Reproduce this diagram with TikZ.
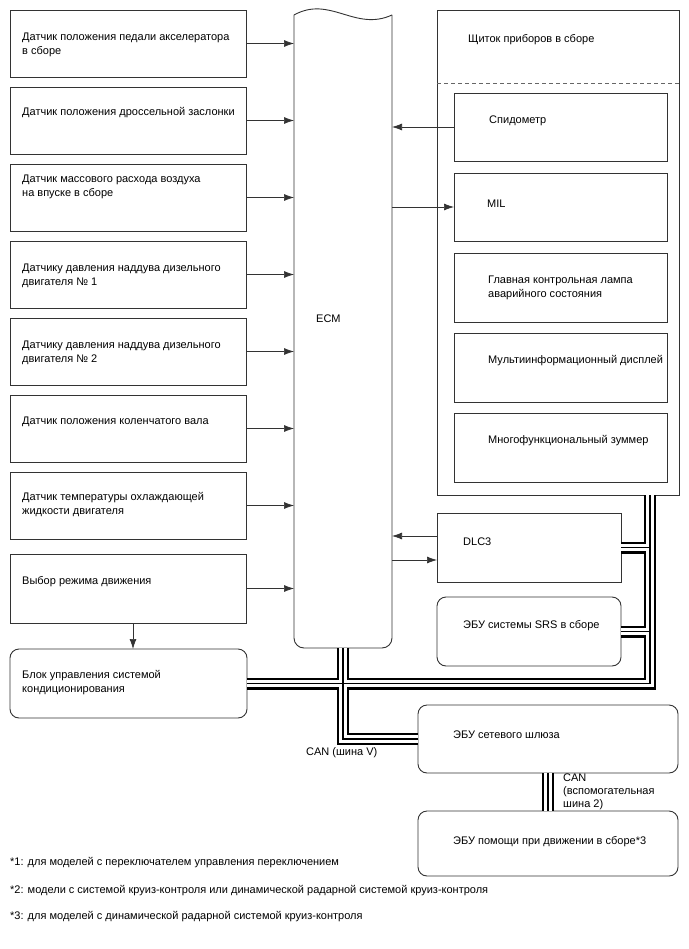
\documentclass[tikz,border=0pt]{standalone}
\usepackage{fontspec}
\setmainfont{Liberation Sans}
\usetikzlibrary{arrows.meta}
\newcommand\buslines[1]{%
  \draw[#1] (ecm.south) -- (ecm.south |- gw.west) -- (gw.west);
  \draw[#1] (ac.east) -- (ac.east -| rb) -- (rb);
  \draw[#1] (dlc.east) -- (dlc.east -| rb);
  \draw[#1] (srs.east) -- (srs.east -| rb);
  \draw[#1] (ga) -- (ga |- asst.north);
}
\begin{document}
\begin{tikzpicture}[x=1pt,y=-1pt,
  every node/.style={font=\fontsize{11}{14}\selectfont},
  box/.style={draw=black!80, line width=0.9pt, anchor=north west, inner sep=0pt, outer sep=0pt},
  rbox/.style={box, rounded corners=9pt},
  lbl/.style={anchor=west, align=left, inner sep=0pt},
  arr/.style={draw=black!80, line width=0.7pt, -{Latex[length=10pt,width=7pt]}},
  line join=miter
]
\useasboundingbox[fill=white] (0,0) rectangle (688,949);

% left column
\node[box, minimum width=236, minimum height=67] (s1) at (10,10) {};
\node[box, minimum width=236, minimum height=67] (s2) at (10,87) {};
\node[box, minimum width=236, minimum height=67] (s3) at (10,164) {};
\node[box, minimum width=236, minimum height=67] (s4) at (10,241) {};
\node[box, minimum width=236, minimum height=67] (s5) at (10,318) {};
\node[box, minimum width=236, minimum height=67] (s6) at (10,395) {};
\node[box, minimum width=236, minimum height=67] (s7) at (10,472) {};
\node[box, minimum width=236, minimum height=69] (s8) at (10,554) {};
\node[rbox, minimum width=237, minimum height=69] (ac) at (10,649) {};

\node[lbl] (t1) at (22,44.5) {Датчик положения педали акселератора\\в сборе};
\node[lbl] (t2) at (22,113) {Датчик положения дроссельной заслонки};
\node[lbl] (t3) at (22,187) {Датчик массового расхода воздуха\\на впуске в сборе};
\node[lbl] (t4) at (22,275.5) {Датчику давления наддува дизельного\\двигателя № 1};
\node[lbl] (t5) at (22,353) {Датчику давления наддува дизельного\\двигателя № 2};
\node[lbl] (t6) at (22,422) {Датчик положения коленчатого вала};
\node[lbl] (t7) at (22,505) {Датчик температуры охлаждающей\\жидкости двигателя};
\node[lbl] (t8) at (22,582) {Выбор режима движения};
\node[lbl] (t9) at (22,682.5) {Блок управления системой\\кондиционирования};

% ECM
\node[inner sep=0pt, outer sep=0pt, anchor=north west, minimum width=98, minimum height=633] (ecm) at (294,15) {};
\draw[draw=black!80, line width=0.9pt, rounded corners=10pt] (ecm.north west) -- (ecm.south west) -- (ecm.south east) -- (ecm.north east);
\draw[draw=black!80, line width=0.9pt] (ecm.north west) .. controls +(36,-20) and +(-37,17) .. (ecm.north east);
\node[lbl] (tecm) at (316,319) {ECM};

% instrument cluster
\node[box, minimum width=242, minimum height=485] (cl) at (437,10) {};
\path (cl.north west) ++(0,73) coordinate (dl);
\path (cl.north east) ++(0,73) coordinate (dr);
\draw[black!60, line width=0.8pt, dash pattern=on 4pt off 3pt] (dl) -- (dr);
\node[lbl] (tcl) at (468,40) {Щиток приборов в сборе};

\node[box, minimum width=213, minimum height=68] (spd) at (454,93) {};
\node[box, minimum width=213, minimum height=68] (mil) at (454,173) {};
\node[box, minimum width=213, minimum height=69] (lamp) at (454,253) {};
\node[box, minimum width=213, minimum height=69] (disp) at (454,333) {};
\node[box, minimum width=213, minimum height=69] (buz) at (454,413) {};
\node[lbl] (tspd) at (489,121) {Спидометр};
\node[lbl] (tmil) at (487,204) {MIL};
\node[lbl] (tlamp) at (488,287.5) {Главная контрольная лампа\\аварийного состояния};
\node[lbl] (tdisp) at (488,361) {Мультиинформационный дисплей};
\node[lbl] (tbuz) at (488,441) {Многофункциональный зуммер};

% DLC3, SRS
\node[box, minimum width=184, minimum height=69] (dlc) at (437,513) {};
\node[rbox, minimum width=184, minimum height=69] (srs) at (437,597) {};
\node[lbl] (tdlc) at (463,542) {DLC3};
\node[lbl] (tsrs) at (463,626) {ЭБУ системы SRS в сборе};

% gateway, assist
\node[rbox, minimum width=260, minimum height=68] (gw) at (418,705) {};
\node[rbox, minimum width=260, minimum height=65] (asst) at (418,811) {};
\node[lbl] (tgw) at (453,735) {ЭБУ сетевого шлюза};
\node[lbl] (tasst) at (453,842) {ЭБУ помощи при движении в сборе*3};

% arrows
\foreach \s in {s1,s2,s3,s4,s5,s6,s7,s8}{
  \draw[arr] (\s.east) -- (\s.east -| ecm.west);
}
\draw[arr] (spd.west) -- (spd.west -| ecm.east);
\draw[arr] (mil.west -| ecm.east) -- (mil.west);
\draw[arr] ([yshift=11.5pt]dlc.west) -- ([yshift=11.5pt]dlc.west -| ecm.east);
\draw[arr] ([yshift=-12.5pt]dlc.west -| ecm.east) -- ([yshift=-12.5pt]dlc.west);
\draw[arr] ([xshift=5pt]s8.south) -- ([xshift=5pt]s8.south |- ac.north);

% buses
\coordinate (rb) at (650,495);
\coordinate (ga) at (548,773);
\buslines{line width=12pt, black}
\buslines{line width=7.5pt, white}
\buslines{line width=1.6pt, black}

\node[lbl] (lcanv) at (306,753) {CAN (шина V)};
\node[lbl, font=\fontsize{11}{12.8}\selectfont] (lcan2) at (563,792) {CAN\\(вспомогательная\\шина 2)};

% footnotes
\node[lbl] (f1) at (10,863) {*1: для моделей с переключателем управления переключением};
\node[lbl] (f2) at (10,891) {*2: модели с системой круиз-контроля или динамической радарной системой круиз-контроля};
\node[lbl] (f3) at (10,917) {*3: для моделей с динамической радарной системой круиз-контроля};
\end{tikzpicture}
\end{document}
